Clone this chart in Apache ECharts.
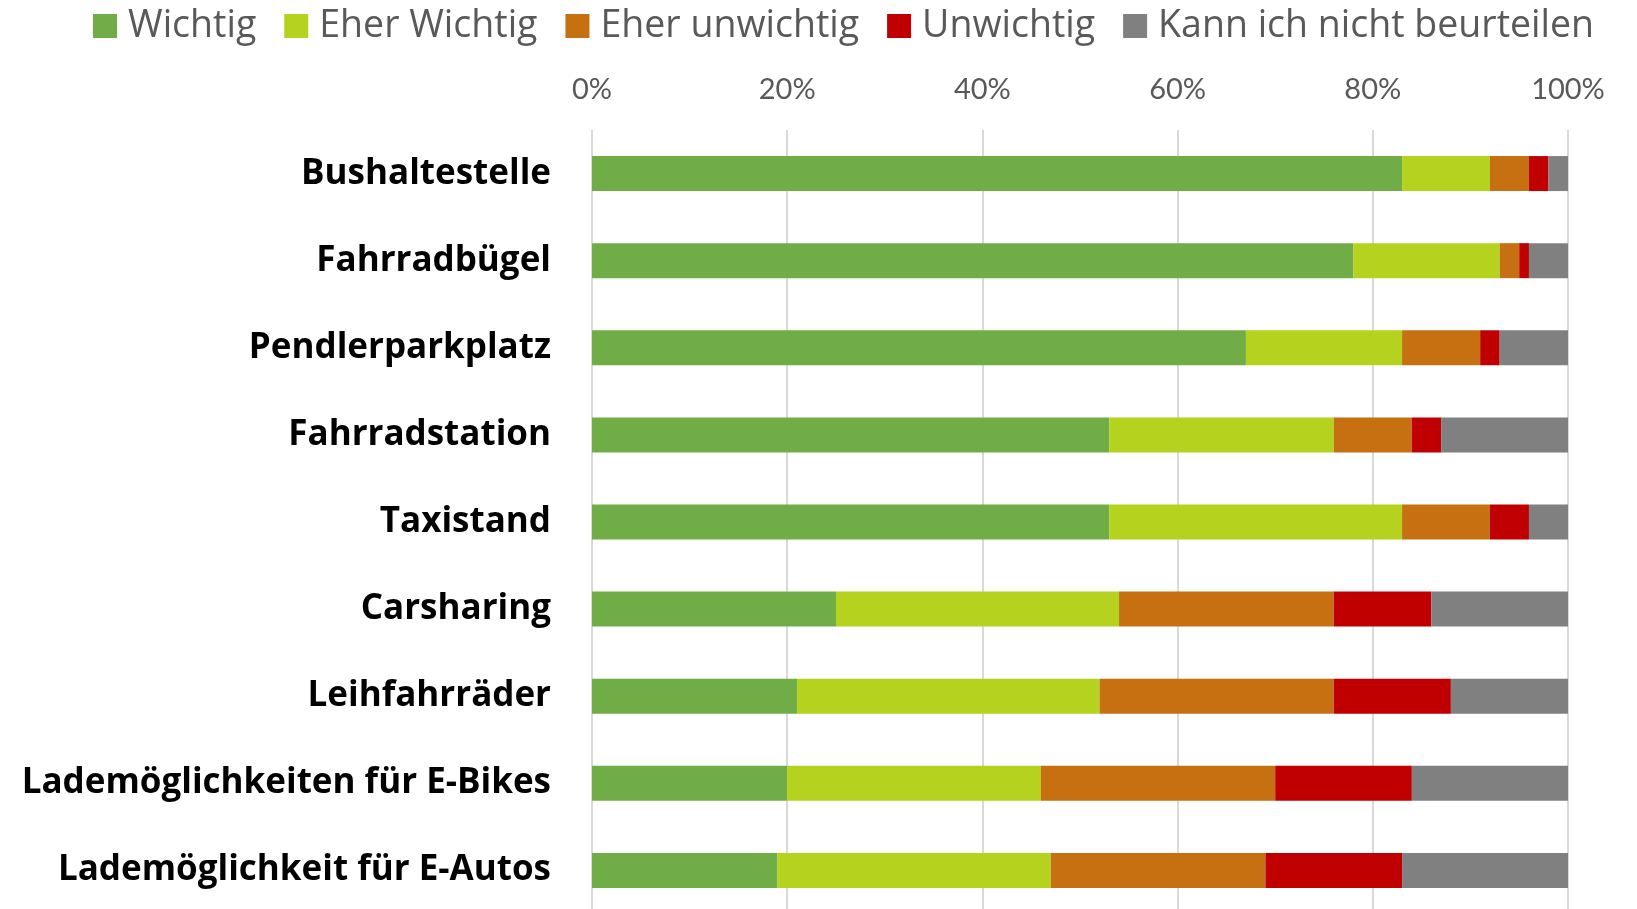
<!DOCTYPE html>
<html>
<head>
<meta charset="utf-8">
<script src="https://cdn.jsdelivr.net/npm/echarts@6/dist/echarts.min.js"></script>
<style>html,body{margin:0;padding:0;background:#fff}#c{width:1637px;height:909px}</style>
</head>
<body>
<div id="c"></div>
<script>
const categories = ['Bushaltestelle','Fahrradbügel','Pendlerparkplatz','Fahrradstation','Taxistand','Carsharing','Leihfahrräder','Lademöglichkeiten für E-Bikes','Lademöglichkeit für E-Autos'];
const seriesNames = ['Wichtig','Eher Wichtig','Eher unwichtig','Unwichtig','Kann ich nicht beurteilen'];
const wichtig       = [83, 78, 67, 53, 53, 25, 21, 20, 19];
const eherWichtig   = [ 9, 15, 16, 23, 30, 29, 31, 26, 28];
const eherUnwichtig = [ 4,  2,  8,  8,  9, 22, 24, 24, 22];
const unwichtig     = [ 2,  1,  2,  3,  4, 10, 12, 14, 14];
const kannNicht     = [ 2,  4,  7, 13,  4, 14, 12, 16, 17];
const tickValues = [0, 20, 40, 60, 80, 100];
const colors = ['#70AD47','#B4D21E','#C67012','#C00000','#808080'];

const allValues = [wichtig, eherWichtig, eherUnwichtig, unwichtig, kannNicht];
const chart = echarts.init(document.getElementById('c'));
chart.setOption({
  animation: false,
  backgroundColor: '#fff',
  legend: {
    left: 93, top: 7, padding: 0,
    itemWidth: 24, itemHeight: 24, itemGap: 28,
    icon: 'rect',
    textStyle: { fontFamily: 'Open Sans', fontSize: 37.5, color: '#595959', padding: [0,0,0,6] },
    data: seriesNames
  },
  grid: { left: 592, width: 976, top: 130, height: 784, containLabel: false, outerBoundsMode: 'none' },
  xAxis: {
    type: 'value', position: 'top',
    min: tickValues[0], max: tickValues[tickValues.length-1], interval: 20,
    axisLine: { show: false }, axisTick: { show: false },
    axisLabel: { formatter: '{value}%', fontFamily: 'Lato', fontSize: 29, color: '#595959', margin: 26 },
    splitLine: { show: true, lineStyle: { color: '#D9D9D9', width: 2 } }
  },
  yAxis: {
    type: 'category', inverse: true, data: categories,
    axisLine: { show: false }, axisTick: { show: false },
    axisLabel: { fontFamily: 'Open Sans', fontWeight: 'bold', fontSize: 35, color: '#000', margin: 41, padding: [5,0,0,0] }
  },
  series: seriesNames.map((n, i) => ({
    name: n, type: 'bar', stack: 'total', barWidth: 35,
    itemStyle: { color: colors[i] },
    data: allValues[i]
  }))
});
</script>
</body>
</html>
